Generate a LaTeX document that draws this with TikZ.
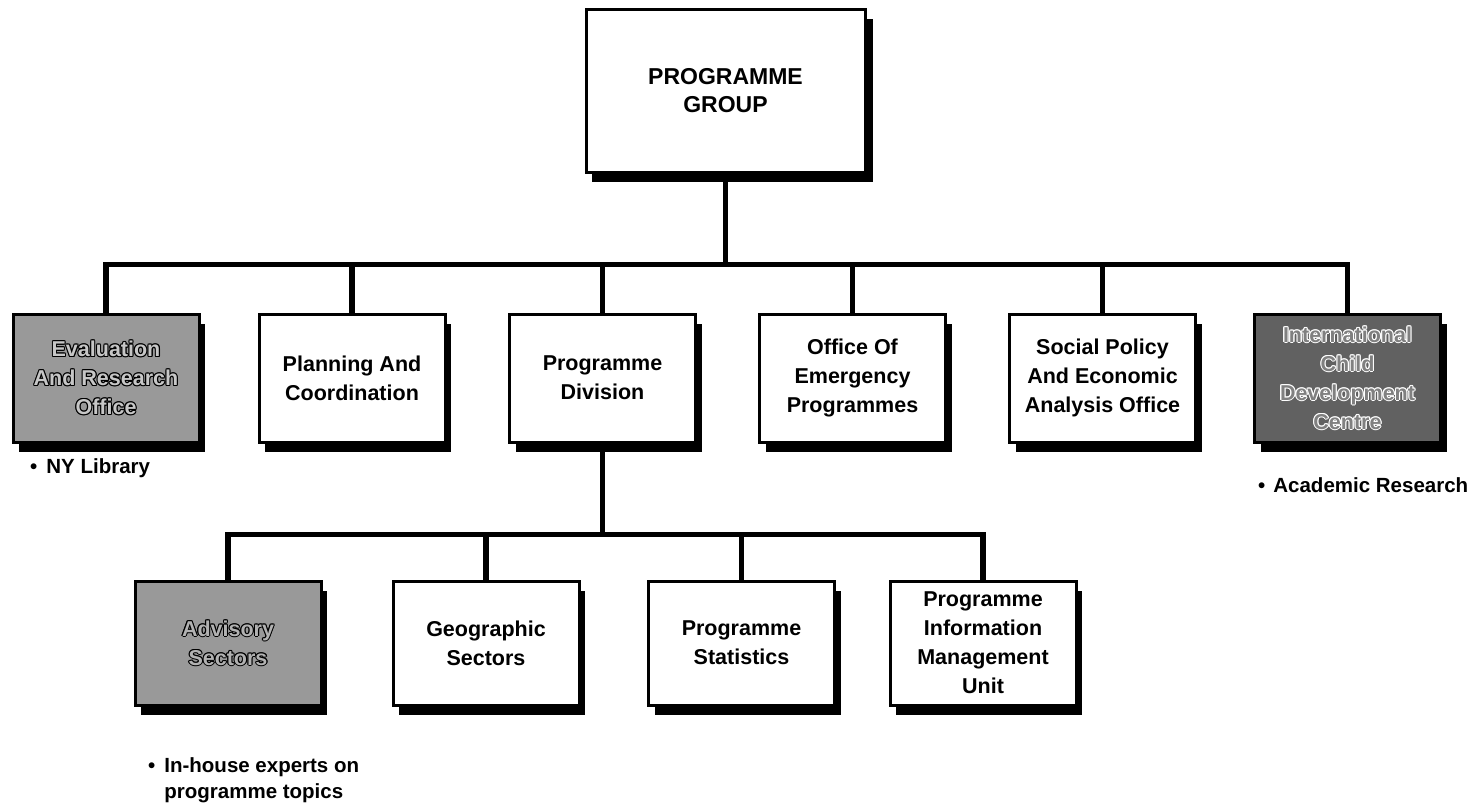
\documentclass[tikz,border=0pt]{standalone}
\usepackage{fontspec}
\setmainfont{Liberation Sans}
\usetikzlibrary{shadows,backgrounds}

\newcommand\unitfont{\bfseries\fontsize{21.5}{29}\selectfont}
\newcommand\notefont{\bfseries\fontsize{20.5}{26}\selectfont}
\newcommand\headfont{\bfseries\fontsize{23}{28}\selectfont}

% text with an outline of another colour, for the shaded units
\newcommand\haloed[5]{%
  \foreach \a in {0,45,...,315}
    \node[font=\unitfont, align=center, text=#4] at ([shift={(\a:1.1pt)}]#2) {#3};
  \node[font=\unitfont, align=center, text=#5] (#1) at (#2) {#3};
}

\begin{document}
\begin{tikzpicture}[x=1pt,y=-1pt,
  unit/.style={draw, line width=3pt, fill=white, minimum width=186pt,
    minimum height=128pt, inner sep=0pt, align=center, font=\unitfont,
    general shadow={fill=black, shadow xshift=6pt, shadow yshift=-10pt}},
  lowunit/.style={unit, minimum height=124pt},
  headunit/.style={unit, minimum width=279pt, minimum height=163pt,
    font=\headfont,
    general shadow={fill=black, shadow xshift=8pt, shadow yshift=-10pt}},
  lightshade/.style={fill=black!40},
  darkshade/.style={fill=black!62},
  link/.style={line width=5.5pt, line cap=rect},
  note/.style={font=\notefont, inner sep=0pt}
]
\useasboundingbox (0,0) rectangle (1472,810);

% head of the group
\node[headunit] (top) at (725.5,91) {PROGRAMME\\GROUP};

% offices reporting to the group
\node[unit, lightshade] (eval) at (106,378) {};
\node[unit] (plan)   at (352,378)    {Planning And\\Coordination};
\node[unit] (div)    at (602.5,378)  {Programme\\Division};
\node[unit] (emerg)  at (852.5,378)  {Office Of\\Emergency\\Programmes};
\node[unit] (social) at (1102.5,378) {Social Policy\\And Economic\\Analysis Office};
\node[unit, darkshade] (intl) at (1347.5,378) {};

\haloed{evaltext}{eval}{Evaluation\\And Research\\Office}{black}{black!22}
\haloed{intltext}{intl}{International\\Child\\Development\\Centre}{white}{black!50}

% units of the programme division
\node[lowunit, lightshade] (adv) at (228,643) {};
\node[lowunit] (geo)  at (486,643)   {Geographic\\Sectors};
\node[lowunit] (stat) at (741.5,643) {Programme\\Statistics};
\node[lowunit] (pimu) at (983,643)   {Programme\\Information\\Management\\Unit};

\haloed{advtext}{adv}{Advisory\\Sectors}{black}{black!30}

% notes
\node[note, anchor=west] (evalnote) at (30,468) {\textbullet\hspace{9pt}NY Library};
\node[note, anchor=west] (intlnote) at (1258,485) {\textbullet\hspace{8pt}Academic Research};
\node[note, anchor=north west] (advnote) at (148,754)
  {\begin{tabular}{@{}l@{\hspace{9pt}}l@{}}\textbullet & In-house experts on\\ & programme topics\end{tabular}};

% connecting lines, kept behind the boxes
\begin{pgfonlayer}{background}
  \coordinate (bus) at (725.5,264.5);
  \draw[link] (top.south) -- (bus);
  \draw[link] (eval.north |- bus) -- (intl.north |- bus);
  \foreach \n in {eval,plan,div,emerg,social,intl}
    \draw[link] (\n.north |- bus) -- (\n.north);

  \coordinate (bus2) at (602.5,534.5);
  \draw[link] (div.south) -- (bus2);
  \draw[link] (adv.north |- bus2) -- (pimu.north |- bus2);
  \foreach \n in {adv,geo,stat,pimu}
    \draw[link] (\n.north |- bus2) -- (\n.north);
\end{pgfonlayer}
\end{tikzpicture}
\end{document}
